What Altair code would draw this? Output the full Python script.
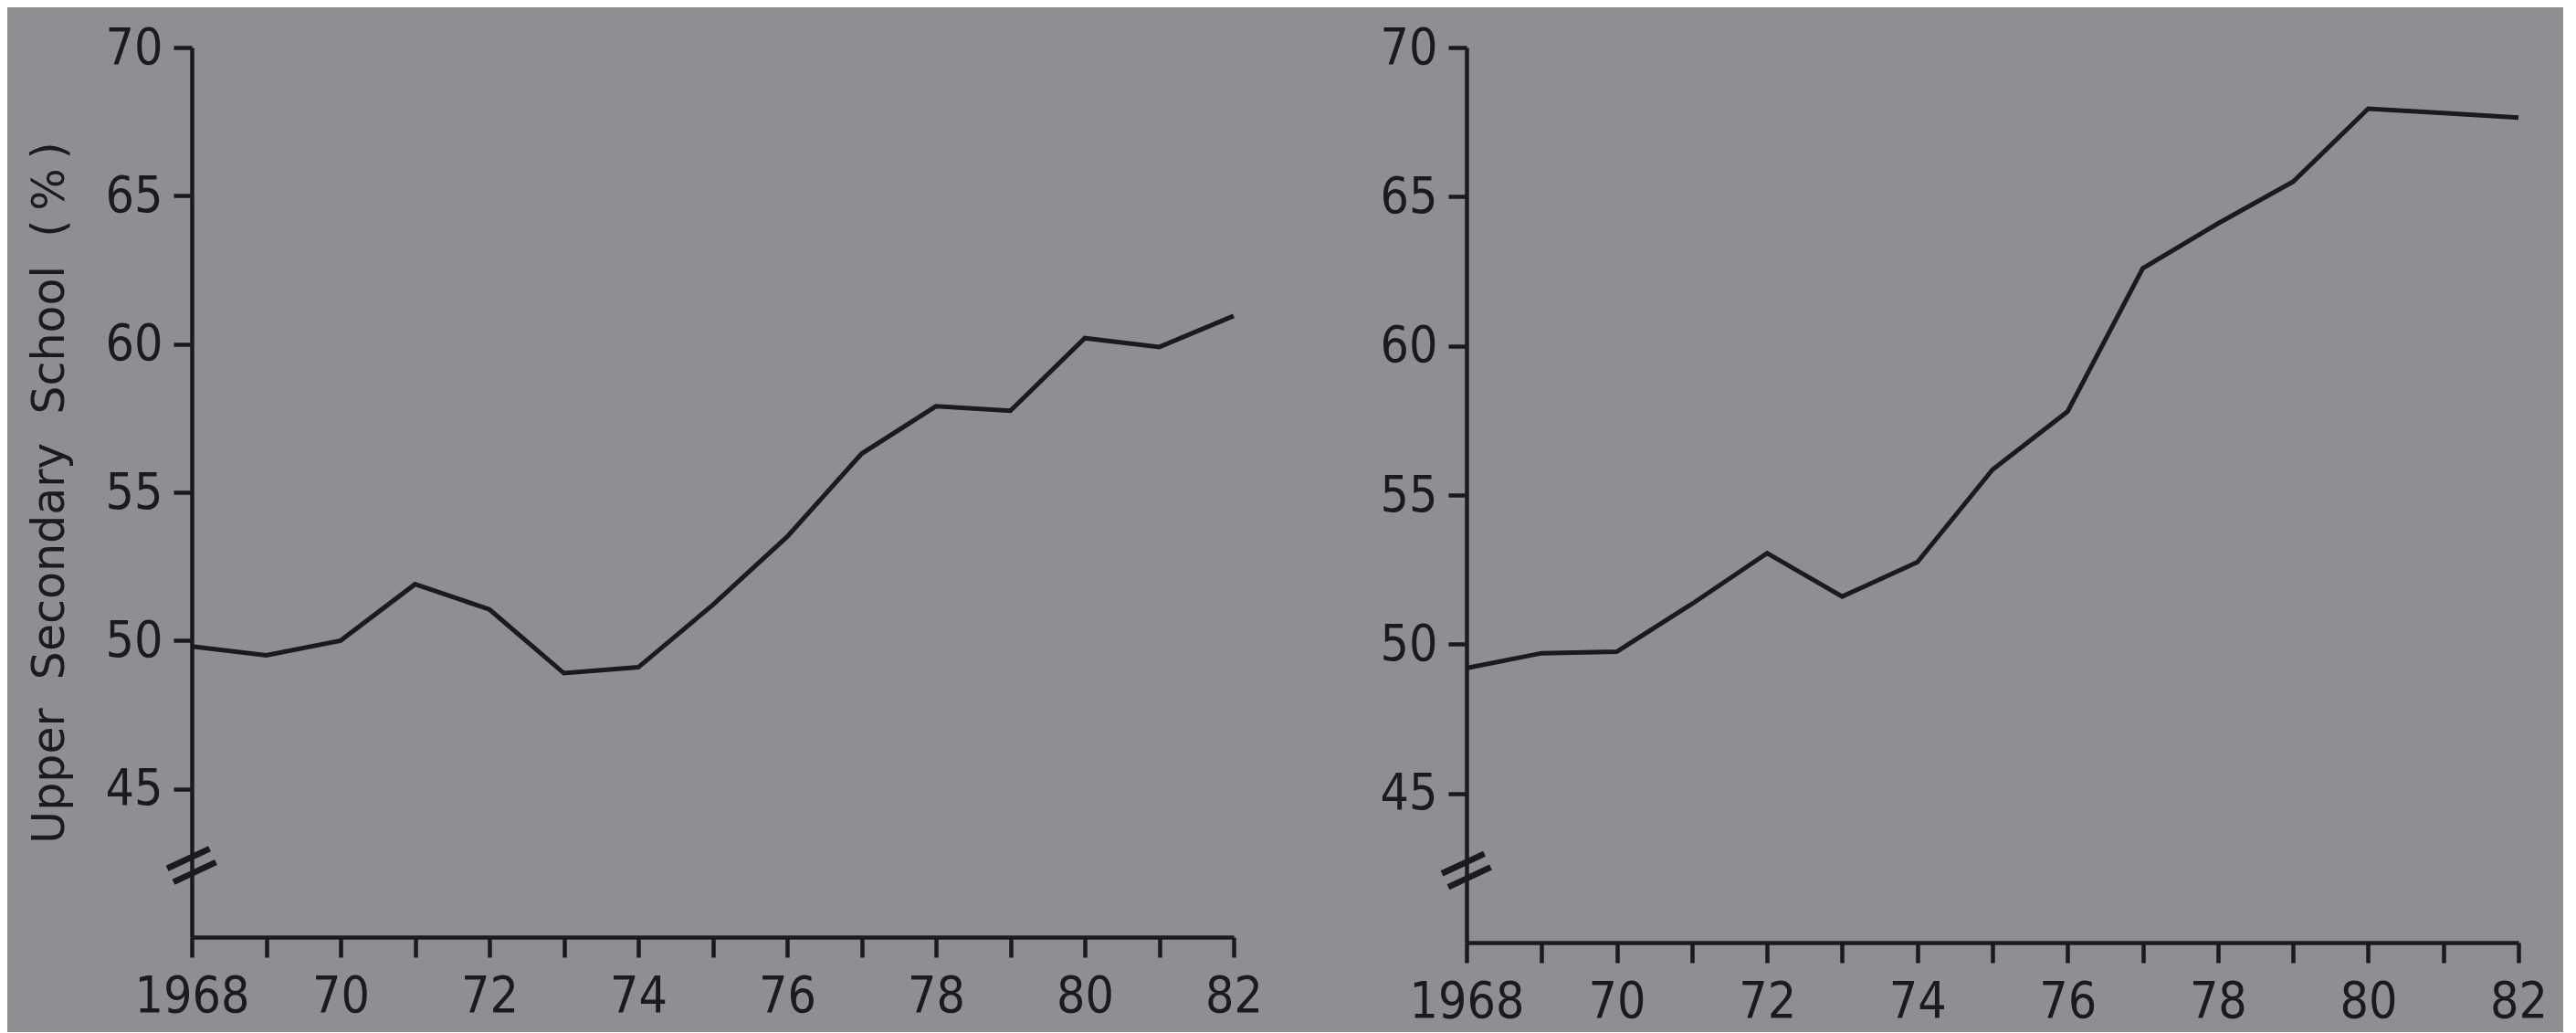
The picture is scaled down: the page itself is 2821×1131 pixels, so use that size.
import altair as alt
import pandas as pd

years = list(range(1968, 1983))
left_values = [49.8, 49.5, 50.0, 51.9, 51.05, 48.9, 49.1, 51.2, 53.5, 56.3, 57.9, 57.75, 60.2, 59.9, 60.95]
right_values = [49.2, 49.7, 49.75, 51.35, 53.05, 51.6, 52.75, 55.85, 57.8, 62.6, 64.1, 65.5, 67.95, 67.8, 67.65]
y_ticks = [45, 50, 55, 60, 65, 70]
y_title = "Upper\u00a0\u00a0Secondary\u00a0\u00a0School\u00a0\u00a0(\u2009%\u2009)"
break_year = [1968]
break_value = [42.4]

INK = "#1b1b1d"
BG = "#8e8f93"
LABEL_FONT = "DejaVu Sans Condensed"


def panel(values, title, width, height):
    df = pd.DataFrame({"year": years, "value": values})
    brk = pd.DataFrame({"year": break_year, "value": break_value})
    x = alt.X(
        "year:Q",
        scale=alt.Scale(domain=[1968, 1982], nice=False, zero=False),
        axis=alt.Axis(
            values=years,
            format="d",
            labelExpr="datum.value == 1968 ? datum.label : (datum.value % 2 == 0 ? slice(datum.label, 2) : '')",
            title=None,
            grid=False,
            tickSize=22,
            tickWidth=4.5,
            domainWidth=4.5,
            domainColor=INK,
            tickColor=INK,
            labelColor=INK,
            labelFont=LABEL_FONT,
            labelFontSize=55,
            labelPadding=16,
            labelOverlap=False,
            labelFlush=False,
        ),
    )
    yaxis_kwargs = dict(
        values=y_ticks,
        grid=False,
        tickSize=20,
        tickWidth=4.5,
        domainWidth=4.5,
        domainColor=INK,
        tickColor=INK,
        labelColor=INK,
        labelFont=LABEL_FONT,
        labelFontSize=55,
        labelPadding=12,
        labelOverlap=False,
        labelFlush=False,
    )
    if title:
        yaxis_kwargs.update(
            title=title,
            titleFont="DejaVu Sans",
            titleFontSize=49,
            titleFontWeight="normal",
            titleColor=INK,
            titlePadding=36,
        )
    else:
        yaxis_kwargs.update(title=None)
    y = alt.Y(
        "value:Q",
        scale=alt.Scale(domain=[40, 70], nice=False, zero=False),
        axis=alt.Axis(**yaxis_kwargs),
    )
    line = alt.Chart(df).mark_line(color=INK, strokeWidth=5, strokeJoin="miter").encode(x=x, y=y)
    mark = alt.Chart(brk).mark_text(
        text="=", angle=335, fontSize=82, font="DejaVu Sans", color=INK,
        align="center", baseline="middle"
    ).encode(x="year:Q", y="value:Q")
    return alt.layer(line, mark).properties(width=width, height=height)


left = panel(left_values, y_title, 1141, 974)
right = panel(right_values, None, 1152, 980)

chart = (
    alt.hconcat(left, right, spacing=128)
    .properties(padding={"left": 22, "top": 17, "right": 17, "bottom": 6})
    .configure(background=BG)
    .configure_view(stroke=None)
)

chart.save("out.html", embed_options={"renderer": "svg", "actions": False})
